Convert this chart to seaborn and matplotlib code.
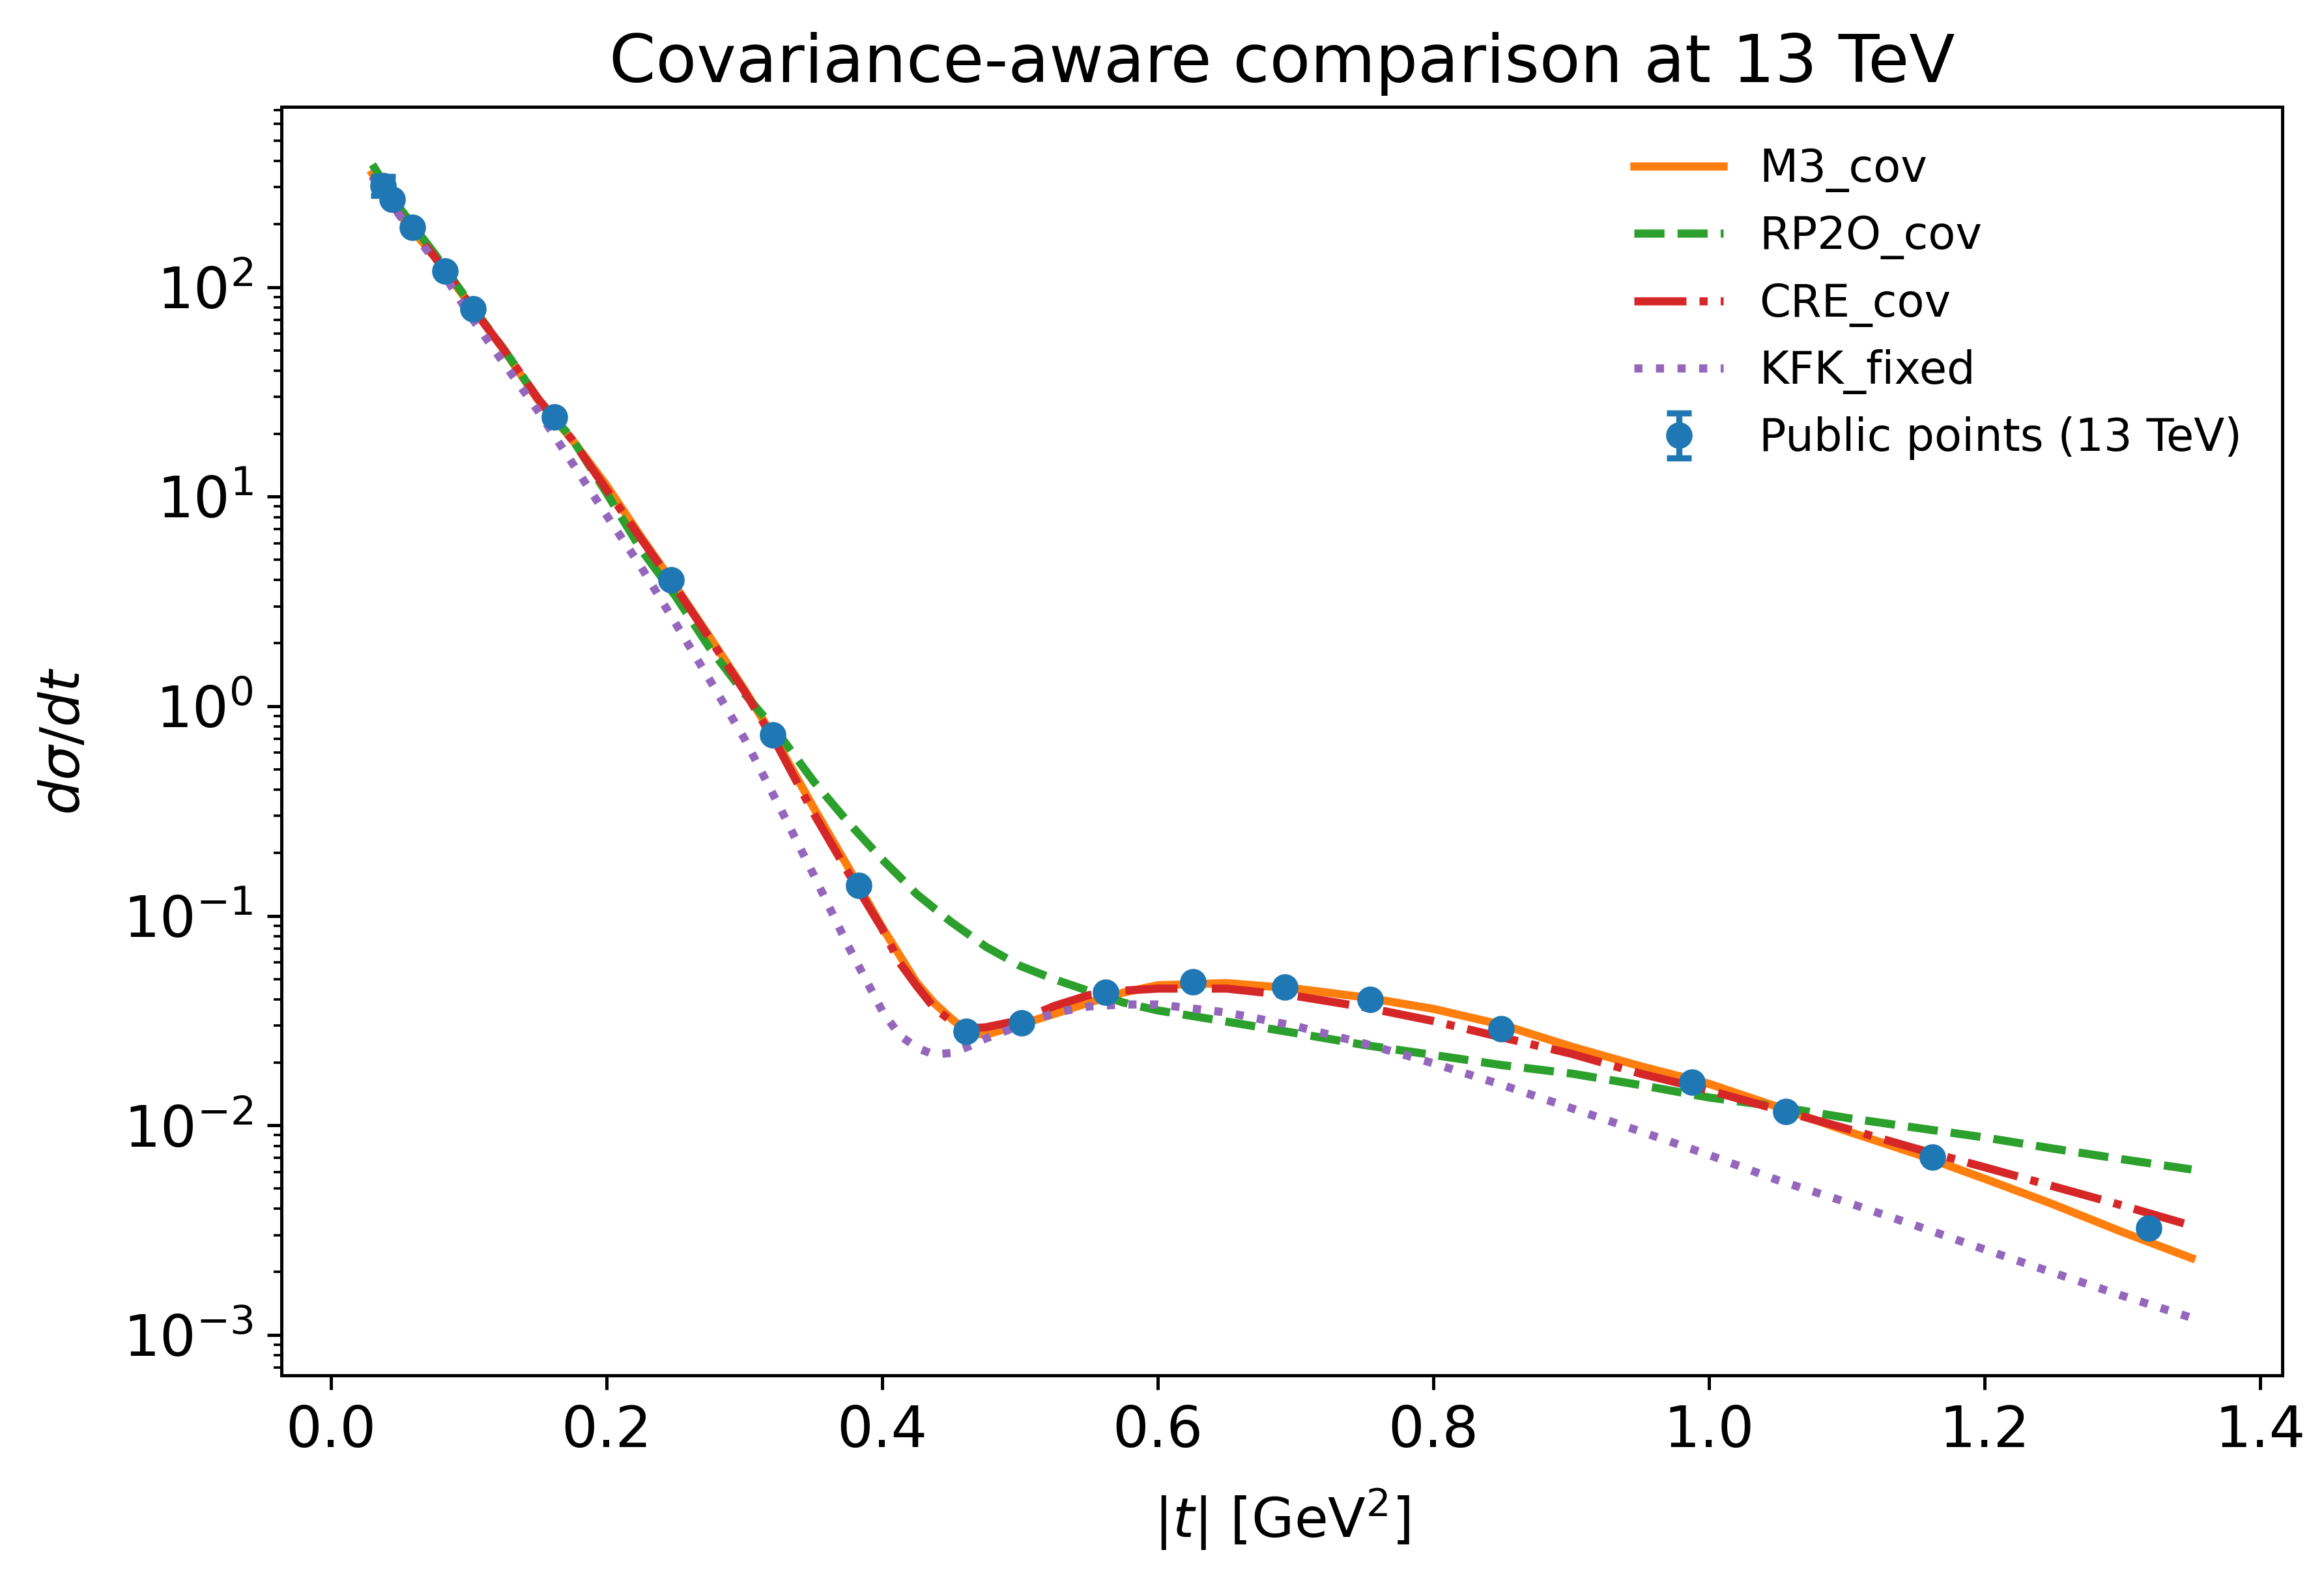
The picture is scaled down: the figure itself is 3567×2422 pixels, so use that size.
import matplotlib
matplotlib.use("Agg")
import matplotlib.pyplot as plt
import seaborn as sns
import numpy as np

# ---- data ----
t_grid = [0.03, 0.05, 0.075, 0.1, 0.125, 0.15, 0.175, 0.2, 0.225, 0.25, 0.275, 0.3,
          0.325, 0.35, 0.375, 0.4, 0.4125, 0.425, 0.4375, 0.45, 0.4625, 0.475, 0.5, 0.525,
          0.55, 0.575, 0.6, 0.65, 0.7, 0.75, 0.8, 0.85, 0.9, 0.95, 1.0, 1.05, 1.1, 1.15,
          1.2, 1.25, 1.3, 1.35]

m3_cov = [348, 221, 140, 84, 50.7, 29.1, 18.7, 11.3, 6.43, 3.73, 2.13, 1.20,
          0.65, 0.330, 0.172, 0.088, 0.065, 0.0480, 0.0385, 0.0324, 0.0277, 0.0271, 0.0303, 0.0341,
          0.0386, 0.0431, 0.0467, 0.0478, 0.045, 0.0409, 0.036, 0.0302, 0.0238, 0.0192, 0.0158,
          0.01225, 0.0094, 0.00733, 0.00557, 0.0042, 0.0031, 0.00233]

rp2o_cov = [385, 238, 145, 85, 51, 29.5, 18.9, 10.4, 5.6, 3.35, 1.89, 1.15,
            0.736, 0.44, 0.281, 0.186, 0.154, 0.127, 0.109, 0.0936, 0.0818, 0.0714, 0.0578, 0.0498,
            0.0438, 0.0386, 0.0354, 0.0313, 0.0276, 0.0242, 0.0217, 0.0194, 0.0177, 0.0156, 0.0136,
            0.0123, 0.01087, 0.00976, 0.00877, 0.00775, 0.0069, 0.00617]

cre_cov = [340, 221, 140, 84, 50.7, 29.5, 18.7, 10.8, 6.3, 3.7, 2.1, 1.18,
           0.63, 0.31, 0.162, 0.0867, 0.060, 0.0463, 0.0365, 0.0315, 0.0291, 0.0294, 0.0318, 0.0372,
           0.0419, 0.044, 0.045, 0.045, 0.0415, 0.0367, 0.0315, 0.0263, 0.022, 0.0177, 0.0147,
           0.0119, 0.00965, 0.00776, 0.00632, 0.00512, 0.00415, 0.00333]

kfk_fixed = [336, 219, 135, 74.6, 43.7, 25.8, 14.5, 8.15, 4.62, 2.49, 1.33, 0.70,
             0.336, 0.158, 0.0724, 0.0352, 0.027, 0.0235, 0.0218, 0.0222, 0.0238, 0.026, 0.030, 0.0345,
             0.037, 0.0378, 0.0378, 0.0346, 0.0298, 0.0246, 0.0198, 0.0156, 0.0121, 0.00938, 0.00723,
             0.00548, 0.0043, 0.00333, 0.00256, 0.00198, 0.00154, 0.00121]

pts_t = [0.0376, 0.0443, 0.0591, 0.0827, 0.1031, 0.1619, 0.2468, 0.3207, 0.383, 0.4608,
         0.501, 0.5621, 0.6254, 0.6923, 0.7539, 0.849, 0.9875, 1.0557, 1.162, 1.319]
pts_y = [306, 263, 193, 119.7, 78.9, 24.0, 4.01, 0.73, 0.140, 0.0281,
         0.0308, 0.0432, 0.0483, 0.0457, 0.0399, 0.0289, 0.0161, 0.01167, 0.00705, 0.00324]
pts_err = [32, 5, 3.5, 2.2, 1.4, 0.45, 0.08, 0.015, 0.003, 0.0006,
           0.0006, 0.0009, 0.001, 0.0009, 0.0008, 0.0006, 0.0003, 0.00024, 0.00014, 0.00007]

labels = ["M3_cov", "RP2O_cov", "CRE_cov", "KFK_fixed", "Public points (13 TeV)"]
colors = ["#ff7f0e", "#2ca02c", "#d62728", "#9467bd", "#1f77b4"]
styles = ["-", "--", "-.", ":"]

# ---- figure ----
fig = plt.figure(figsize=(3567 / 450, 2422 / 450), dpi=450)
ax = fig.add_axes([0.1211, 0.1284, 0.9821 - 0.1211, 0.9323 - 0.1284])

for series, lab, col, ls in zip([m3_cov, rp2o_cov, cre_cov, kfk_fixed], labels[:4], colors[:4], styles):
    sns.lineplot(x=t_grid, y=series, ax=ax, color=col, linestyle=ls, linewidth=2, label=lab)

ax.errorbar(pts_t, pts_y, yerr=pts_err, fmt="o", color=colors[4], markersize=5.5,
            capsize=3, elinewidth=1.5, capthick=1.5, label=labels[4], zorder=5)

ax.set_yscale("log")
ax.set_xlabel(r"$|t|$ [GeV$^2$]", fontsize=13.5, labelpad=7)
ax.set_ylabel(r"$d\sigma/dt$", fontsize=13.5, labelpad=8)
ax.set_title("Covariance-aware comparison at 13 TeV", fontsize=16.4)
ax.tick_params(axis="both", which="major", labelsize=14)
ax.legend(loc="upper right", frameon=False, fontsize=11)

fig.savefig("out.png", dpi=450)
